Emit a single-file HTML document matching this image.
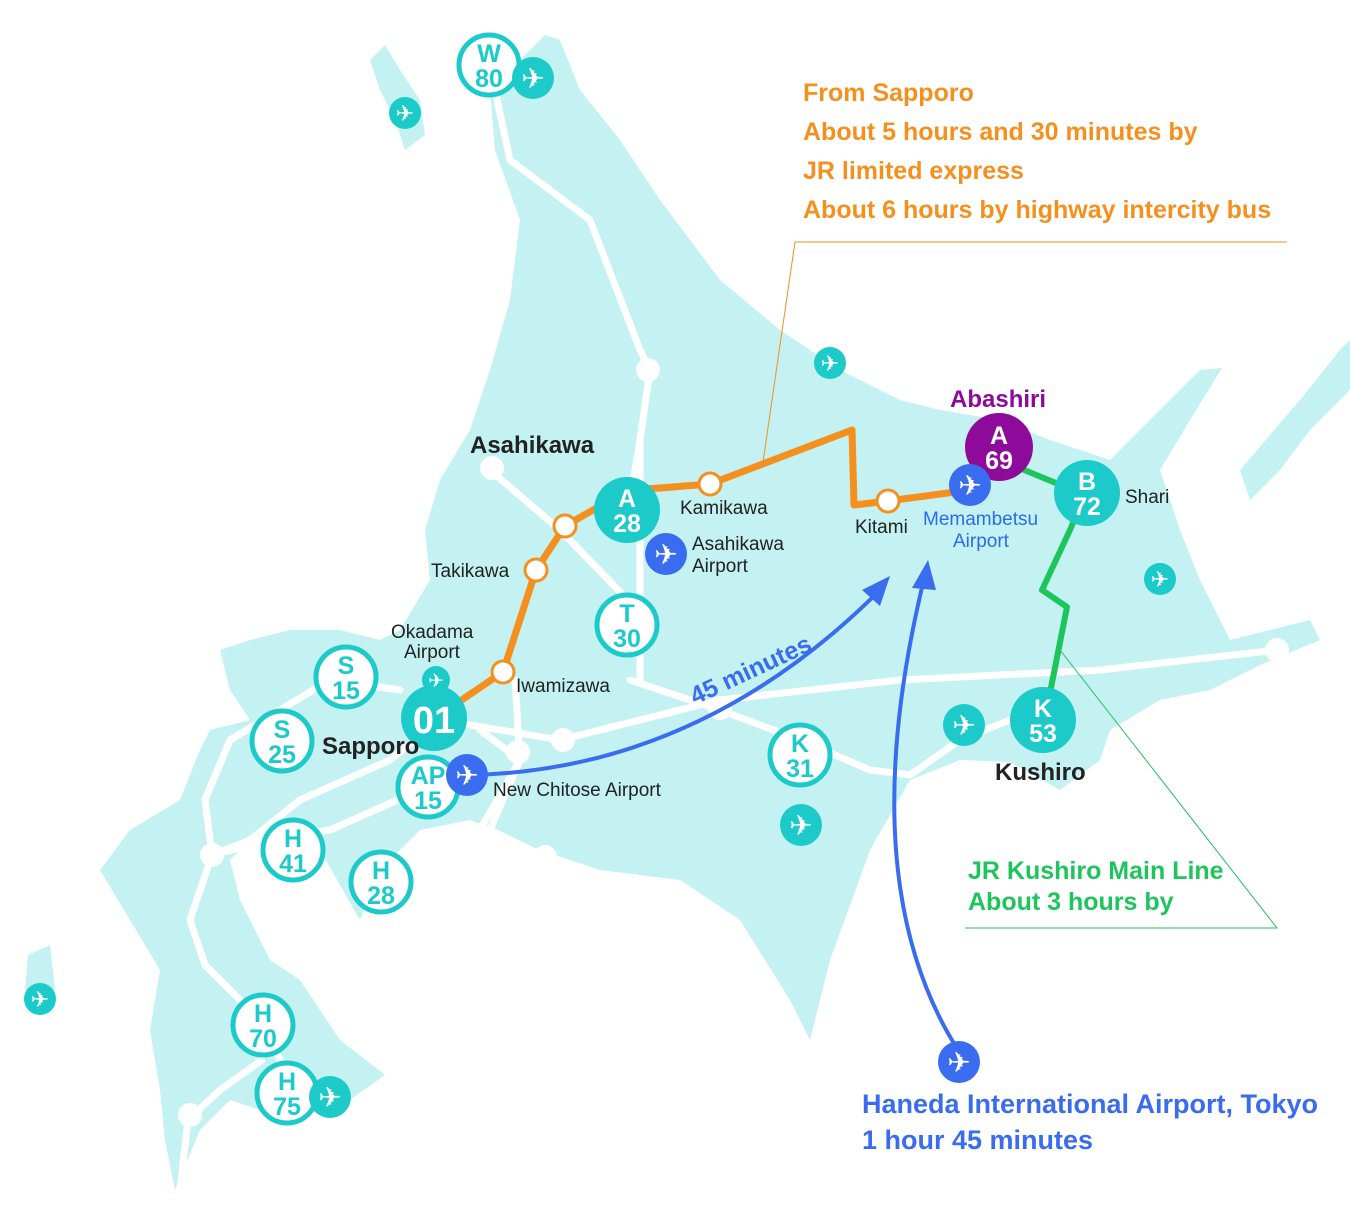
<!DOCTYPE html>
<html><head><meta charset="utf-8"><style>
html,body{margin:0;padding:0;background:#fff;}
svg{display:block;font-family:"Liberation Sans","DejaVu Sans",sans-serif;}
</style></head><body>
<svg width="1350" height="1220" viewBox="0 0 1350 1220" xmlns="http://www.w3.org/2000/svg">
<!-- land -->
<g fill="#c4f1f1">
<path d="M545,35 L560,40 L580,90 L620,140 L660,200 L720,280 L780,330 L840,370 L900,400 L940,410 L1000,420 L1050,440 L1080,450 L1110,460 L1150,420 L1200,370 L1222,368 L1190,420 L1160,470 L1180,530 L1200,580 L1230,640 L1270,630 L1310,620 L1320,640 L1260,665 L1210,690 L1160,700 L1110,730 L1100,760 L1060,790 L1010,762 L960,760 L910,780 L870,850 L830,960 L810,1040 L790,1000 L740,920 L680,880 L600,870 L540,850 L470,820 L420,830 L380,870 L360,920 L320,850 L260,830 L230,860 L240,900 L270,960 L300,980 L340,1040 L385,1075 L350,1100 L290,1120 L230,1100 L200,1130 L175,1190 L165,1140 L160,1090 L150,1030 L160,970 L130,920 L100,870 L130,830 L180,800 L200,750 L210,730 L250,720 L230,690 L220,650 L250,640 L290,630 L340,630 L380,640 L400,630 L430,580 L425,530 L440,480 L470,430 L490,370 L510,300 L520,220 L495,150 L490,90 Z"/>
<path d="M370,60 L385,45 L400,70 L420,100 L425,135 L405,150 L395,120 L380,90 Z"/>
<path d="M28,955 L50,945 L55,990 L40,1010 L25,990 Z"/>
<path d="M1240,470 L1300,400 L1340,350 L1350,340 L1350,390 L1310,430 L1280,470 L1250,500 Z"/>
</g>
<!-- roads -->
<g stroke="#fff" stroke-width="7" fill="none" stroke-linecap="round" stroke-linejoin="round">
<path d="M495,90 L510,160 L590,220 L640,350 L650,370 L640,440 L630,500"/>
<path d="M490,470 L560,530 L628,600"/>
<path d="M630,680 L720,710 L800,740 L870,770 L910,775 L960,740 L1010,720"/>
<path d="M440,720 L560,740 L680,710 L720,700 L900,680 L1100,670 L1277,650"/>
<path d="M480,730 L520,760 L490,830 L545,857"/>
<path d="M440,720 L390,760 L300,800 L250,840 L212,855 L190,920 L205,965 L260,1020 L290,1080"/>
<path d="M420,790 L330,830 L270,840 L212,855 L205,800 L230,740 L330,680 L400,690"/>
<path d="M300,840 L340,915"/>
<path d="M262,1060 L220,1090 L188,1120 L180,1190"/>
<path d="M515,680 L520,760 L480,830"/>
<path d="M640,440 L640,680"/>
</g>
<g fill="#fff">
<circle cx="648" cy="370" r="12"/><circle cx="492" cy="468" r="12"/><circle cx="518" cy="752" r="12"/><circle cx="563" cy="740" r="12"/>
<circle cx="480" cy="835" r="12"/><circle cx="545" cy="857" r="12"/><circle cx="212" cy="855" r="12"/><circle cx="340" cy="915" r="12"/>
<circle cx="190" cy="1115" r="12"/><circle cx="1277" cy="650" r="12"/><circle cx="720" cy="708" r="12"/>
</g>
<!-- orange route -->
<path d="M435,718 L503,672 L536,570 L565,526 L628,490 L660,488 L710,484 L852,430 L854,505 L888,501 L970,490" stroke="#f5901e" stroke-width="7" fill="none" stroke-linejoin="round"/>
<g fill="#fff" stroke="#f5901e" stroke-width="3">
<circle cx="503" cy="672" r="11"/><circle cx="536" cy="570" r="11"/><circle cx="565" cy="526" r="11"/><circle cx="710" cy="484" r="11"/><circle cx="888" cy="501" r="11"/>
</g>
<!-- green route -->
<path d="M1000,460 L1085,495 L1070,530 L1042,590 L1067,607 L1045,718" stroke="#1ec45c" stroke-width="6" fill="none" stroke-linejoin="round"/>
<!-- leader lines -->
<path d="M1287,242 L795,242 L763,462" stroke="#f5901e" stroke-width="1" fill="none"/>
<path d="M1060,650 L1277,928 L965,928" stroke="#1ec45c" stroke-width="1" fill="none"/>
<!-- blue arrows -->
<path d="M470,775 Q700,770 880,590" stroke="#3a6cf0" stroke-width="4" fill="none"/>
<path d="M890,576 L862,590 L880,606 Z" fill="#3a6cf0"/>
<path d="M958,1050 Q850,880 925,575" stroke="#3a6cf0" stroke-width="4" fill="none"/>
<path d="M928,560 L912,588 L936,590 Z" fill="#3a6cf0"/>
<!-- station circles outline -->
<g fill="#fff" stroke="#1ccaca" stroke-width="5">
<circle cx="489" cy="65" r="30"/><circle cx="346" cy="677" r="30"/><circle cx="282" cy="741" r="30"/><circle cx="627" cy="625" r="30"/>
<circle cx="428" cy="787" r="30"/><circle cx="800" cy="755" r="30"/><circle cx="293" cy="850" r="30"/><circle cx="381" cy="882" r="30"/>
<circle cx="263" cy="1025" r="30"/><circle cx="287" cy="1093" r="30"/>
</g>
<g fill="#1ccaca">
<circle cx="627" cy="510" r="33"/><circle cx="434" cy="718" r="33"/><circle cx="1087" cy="493" r="33"/><circle cx="1043" cy="720" r="33"/>
</g>
<circle cx="999" cy="447" r="34" fill="#8e0a9a"/>
<!-- station texts -->
<g font-weight="bold" font-size="25" text-anchor="middle" fill="#1ccaca">
<text x="489" y="62">W</text><text x="489" y="87">80</text>
<text x="346" y="674">S</text><text x="346" y="699">15</text>
<text x="282" y="738">S</text><text x="282" y="763">25</text>
<text x="627" y="622">T</text><text x="627" y="647">30</text>
<text x="428" y="784">AP</text><text x="428" y="809">15</text>
<text x="800" y="752">K</text><text x="800" y="777">31</text>
<text x="293" y="847">H</text><text x="293" y="872">41</text>
<text x="381" y="879">H</text><text x="381" y="904">28</text>
<text x="263" y="1022">H</text><text x="263" y="1047">70</text>
<text x="287" y="1090">H</text><text x="287" y="1115">75</text>
</g>
<g font-weight="bold" font-size="25" text-anchor="middle" fill="#fff">
<text x="627" y="507">A</text><text x="627" y="532">28</text>
<text x="434" y="733" font-size="38">01</text>
<text x="1087" y="490">B</text><text x="1087" y="515">72</text>
<text x="1043" y="717">K</text><text x="1043" y="742">53</text>
<text x="999" y="444">A</text><text x="999" y="469">69</text>
</g>
<!-- airports -->
<g fill="#1ccaca">
<circle cx="533" cy="78" r="21"/><circle cx="405" cy="113" r="16"/><circle cx="830" cy="363" r="16"/><circle cx="1160" cy="579" r="16"/>
<circle cx="436" cy="680" r="14"/><circle cx="964" cy="725" r="21"/><circle cx="801" cy="825" r="21"/><circle cx="40" cy="999" r="16"/><circle cx="330" cy="1097" r="21"/>
</g>
<g fill="#3a6cf0">
<circle cx="666" cy="554" r="21"/><circle cx="970" cy="485" r="21"/><circle cx="467" cy="775" r="21"/><circle cx="959" cy="1062" r="21"/>
</g>
<g fill="#fff" text-anchor="middle" font-family="DejaVu Sans,sans-serif">
<text x="533" y="88" font-size="28">✈</text><text x="405" y="121" font-size="22">✈</text><text x="830" y="371" font-size="22">✈</text>
<text x="1160" y="587" font-size="22">✈</text><text x="436" y="687" font-size="19">✈</text><text x="964" y="735" font-size="28">✈</text>
<text x="801" y="835" font-size="28">✈</text><text x="40" y="1007" font-size="22">✈</text><text x="330" y="1107" font-size="28">✈</text>
<text x="666" y="564" font-size="28">✈</text><text x="970" y="495" font-size="28">✈</text><text x="467" y="785" font-size="28">✈</text><text x="959" y="1072" font-size="28">✈</text>
</g>
<!-- labels -->
<g font-size="19" fill="#222">
<text x="680" y="514">Kamikawa</text><text x="855" y="533">Kitami</text><text x="431" y="577">Takikawa</text>
<text x="516" y="692">Iwamizawa</text><text x="692" y="550">Asahikawa</text><text x="692" y="572">Airport</text>
<text x="391" y="638">Okadama</text><text x="404" y="658">Airport</text><text x="493" y="796">New Chitose Airport</text>
<text x="1125" y="503">Shari</text>
</g>
<g font-size="24" font-weight="bold" fill="#222">
<text x="470" y="453">Asahikawa</text><text x="322" y="754">Sapporo</text><text x="995" y="780">Kushiro</text>
</g>
<text x="950" y="407" font-size="24" font-weight="bold" fill="#8e0a9a">Abashiri</text>
<g font-size="19" fill="#2a6cf0"><text x="923" y="525">Memambetsu</text><text x="953" y="547">Airport</text></g>
<text x="695" y="705" font-size="25" font-weight="bold" fill="#3a6cf0" transform="rotate(-25 695 705)">45 minutes</text>
<g font-size="25" font-weight="bold" fill="#f5901e">
<text x="803" y="101">From Sapporo</text><text x="803" y="140">About 5 hours and 30 minutes by</text>
<text x="803" y="179">JR limited express</text><text x="803" y="218">About 6 hours by highway intercity bus</text>
</g>
<g font-size="25" font-weight="bold" fill="#1ec45c"><text x="968" y="879">JR Kushiro Main Line</text><text x="968" y="910">About 3 hours by</text></g>
<g font-size="27" font-weight="bold" fill="#3a6cf0"><text x="862" y="1113">Haneda International Airport, Tokyo</text><text x="862" y="1149">1 hour 45 minutes</text></g>
</svg>
</body></html>
